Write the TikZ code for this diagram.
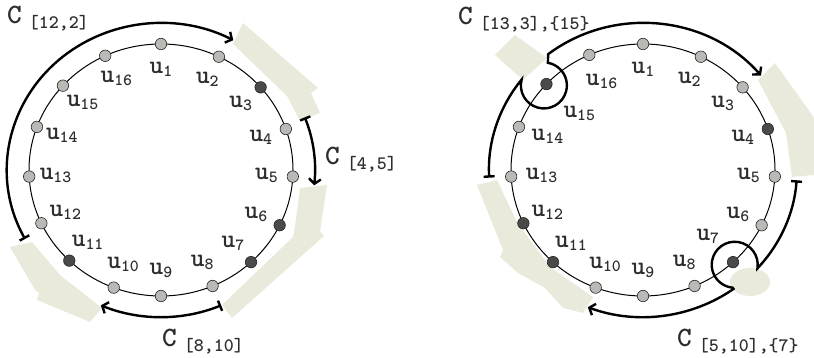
\documentclass[tikz,border=0pt]{standalone}
\usetikzlibrary{arrows.meta}
\definecolor{beige}{RGB}{234,234,220}
\definecolor{vgrey}{RGB}{184,186,181}
\definecolor{vdark}{RGB}{74,74,72}
\definecolor{ink}{RGB}{45,45,45}
\newcommand{\ulab}[1]{{\fontsize{26}{26}\selectfont u}\raisebox{-3pt}{\fontsize{17}{17}\selectfont #1}}
\newcommand{\clab}[1]{{\fontsize{28}{28}\selectfont C}\hspace{7pt}\raisebox{-5pt}{\fontsize{19}{19}\selectfont #1}}
\tikzset{
  ring/.style={line width=1pt,black},
  vtx/.style={circle,draw=black!85,line width=0.6pt,fill=vgrey,minimum size=11.5pt,inner sep=0pt},
  vtxd/.style={vtx,fill=vdark},
  ulabel/.style={text=ink,font=\ttfamily\bfseries,inner sep=0pt},
  clabel/.style={text=ink,font=\ttfamily\bfseries,inner sep=0pt,anchor=base west},
  chain/.style={line width=2.4pt,{Bar[width=11pt]}-{Straight Barb[length=5pt,width=12pt]}},
}
\begin{document}
\begin{tikzpicture}[x=1pt,y=1pt]
  \useasboundingbox (0,0) rectangle (814,358);
  \coordinate (cl) at (161,188);
  \coordinate (cr) at (643,188);
  % shaded parts, left
  \fill[beige] (233,314)--(243,335)--(318,270)--(311,265)--(320,245)--(300,237)--(287,262)--cycle;
  \fill[beige] (300,170)--(327,173)--(320,127)--(324,122)--(232,40)--(222,53)--(293,121)--(295,132)--cycle;
  \fill[beige] (10,111)--(32,116)--(60,83)--(102,50)--(90,36)--(37,58)--(39,65)--(35,68)--cycle;
  % shaded parts, right
  \fill[beige] (495,303)--(515,323)--(547,300)--(523,278)--cycle;
  \fill[beige] (758,278)--(775,295)--(810,246)--(814,240)--(814,183)--(792,181)--(786,225)--cycle;
  \fill[beige] (477,173)--(497,178)--(517,136)--(550,91)--(593,61)--(583,45)--(563,50)--(545,70)--(518,85)--(500,101)--(503,108)--cycle;
  \fill[beige] (750,76) ellipse [x radius=20,y radius=14];
  % rings
  \draw[ring] (cl) ellipse [x radius=132,y radius=126];
  \draw[ring] (cr) ellipse [x radius=132,y radius=126];
  % vertices
  \foreach \i/\a/\s in {1/90/vtx,2/64/vtx,3/41/vtxd,4/19/vtx,5/-3/vtx,6/-26/vtxd,7/-47/vtxd,8/-67/vtx,
                        9/-90/vtx,10/-111/vtx,11/-134/vtxd,12/-155/vtx,13/-177/vtx,14/160/vtx,15/138/vtx,16/115/vtx} {
    \node[\s] (a\i) at ([shift={(\a:132 and 126)}]cl) {};
    \node[ulabel] (la\i) at ([shift={(\a:105.6 and 100.8)}]cl) {\ulab{\i}};
  }
  \foreach \i/\a/\s/\f in {1/90/vtx/0.8,2/64/vtx/0.8,3/41/vtx/0.8,4/19/vtxd/0.8,5/-3/vtx/0.8,6/-26/vtx/0.8,7/-47/vtxd/0.72,8/-67/vtx/0.8,
                           9/-90/vtx/0.8,10/-111/vtx/0.8,11/-133/vtxd/0.8,12/-155/vtxd/0.8,13/-177/vtx/0.77,14/160/vtx/0.77,15/137/vtxd/0.66,16/114/vtx/0.77} {
    \pgfmathsetmacro{\lx}{132*\f*cos(\a)}
    \pgfmathsetmacro{\ly}{126*\f*sin(\a)}
    \node[\s] (b\i) at ([shift={(\a:132 and 126)}]cr) {};
    \node[ulabel] (lb\i) at ([shift={(\lx,\ly)}]cr) {\ulab{\i}};
  }
  % chains, left
  \coordinate (p1) at ([shift={(208:154 and 147)}]cl);
  \coordinate (p2) at ([shift={(21:154 and 147)}]cl);
  \coordinate (p3) at ([shift={(-67:154 and 147)}]cl);
  \draw[chain] (p1) arc[start angle=208,end angle=62,x radius=154,y radius=147];
  \draw[chain] (p2) arc[start angle=21,end angle=-6,x radius=154,y radius=147];
  \draw[chain] (p3) arc[start angle=-67,end angle=-113,x radius=154,y radius=147];
  % chains, right
  \coordinate (q1) at ([shift={(183:154 and 147)}]cr);
  \coordinate (q1b) at ([shift={(128:154 and 147)}]cr);
  \coordinate (q2) at ([shift={(-4:154 and 147)}]cr);
  \coordinate (q2b) at ([shift={(-54:154 and 147)}]cr);
  \draw[chain] (q1) arc[start angle=183,end angle=142,x radius=154,y radius=147]
    arc[start angle=165,end angle=440,radius=23] -- (q1b)
    arc[start angle=128,end angle=40,x radius=154,y radius=147];
  \draw[chain] (q2) arc[start angle=-4,end angle=-42,x radius=154,y radius=147]
    arc[start angle=-9,end angle=265,radius=23] -- (q2b)
    arc[start angle=-54,end angle=-111,x radius=154,y radius=147];
  % names
  \node[clabel] (c1) at (7,334) {\clab{[12,2]}};
  \node[clabel] (c2) at (325,193) {\clab{[4,5]}};
  \node[clabel] (c3) at (162,11) {\clab{[8,10]}};
  \node[clabel] (c4) at (458,333) {\clab{[13,3],\{15\}}};
  \node[clabel] (c5) at (677,11) {\clab{[5,10],\{7\}}};
\end{tikzpicture}
\end{document}
